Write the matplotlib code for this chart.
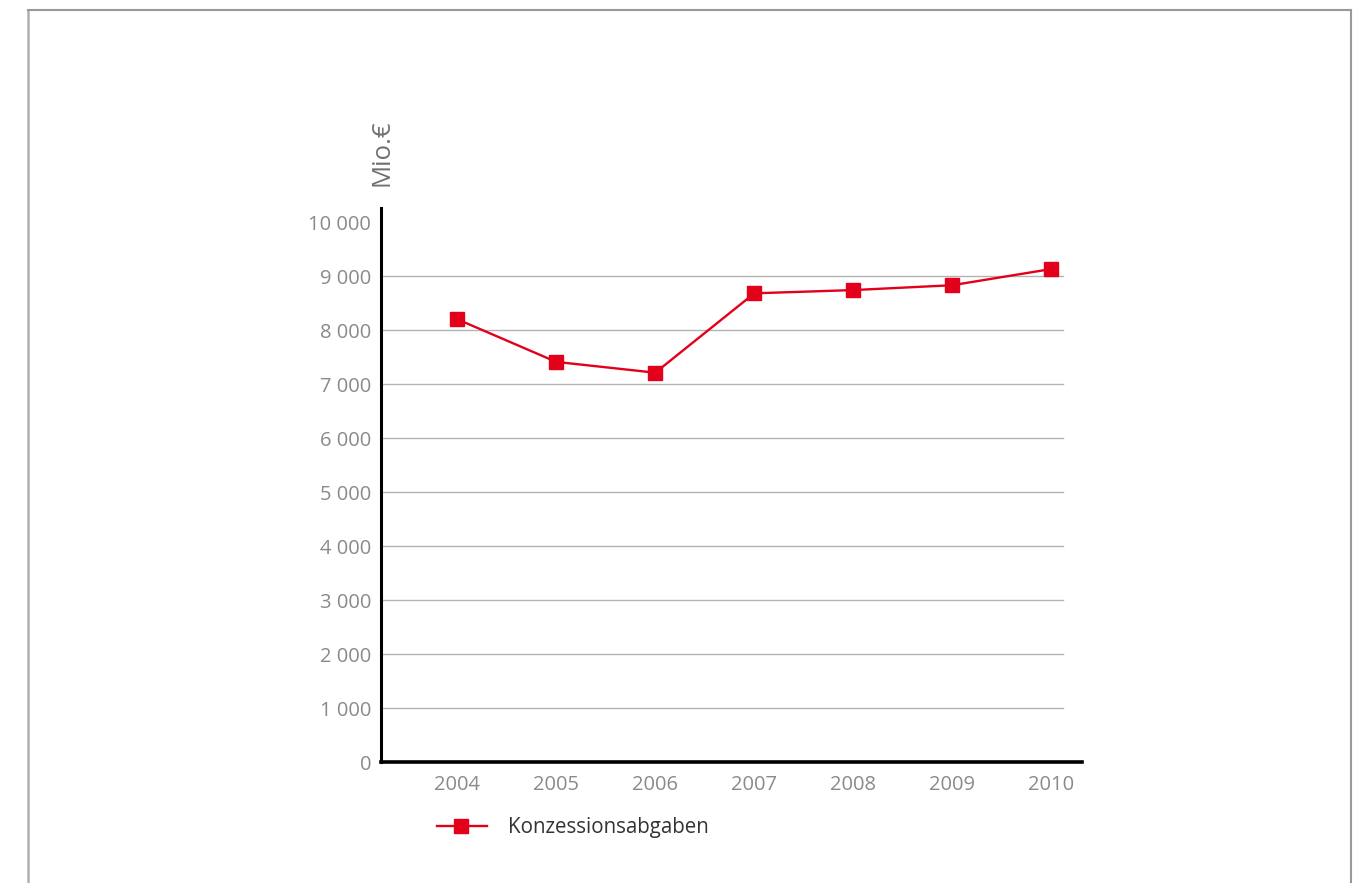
import matplotlib
matplotlib.use('Agg')
import matplotlib.pyplot as plt
from matplotlib.lines import Line2D
from matplotlib.ticker import FuncFormatter

# Konzessionsabgaben in Mio. Euro
years = [2004, 2005, 2006, 2007, 2008, 2009, 2010]
values = [8200, 7410, 7210, 8680, 8740, 8830, 9130]
yticks = [0, 1000, 2000, 3000, 4000, 5000, 6000, 7000, 8000, 9000, 10000]
series_name = 'Konzessionsabgaben'
unit_label = 'Mio.€'

red = '#e2001a'
gray_txt = '#8a8a8a'

plt.rcParams['font.family'] = ['Open Sans', 'DejaVu Sans']

fig = plt.figure(figsize=(13.66, 8.83), dpi=100)
W, H = 1366, 883

# outer frame (open at the bottom)
fig.add_artist(Line2D([28 / W, 28 / W], [0, 1 - 10 / H], transform=fig.transFigure, color='#b0b0b0', lw=1.8))
fig.add_artist(Line2D([28 / W, 1351 / W], [1 - 10 / H, 1 - 10 / H], transform=fig.transFigure, color='#999999', lw=1.5))
fig.add_artist(Line2D([1351 / W, 1351 / W], [0, 1 - 10 / H], transform=fig.transFigure, color='#999999', lw=1.5))

ax = fig.add_axes([381 / W, 1 - 762 / H, (1082 - 381) / W, (762 - 208) / H])
ax.set_xlim(2004 - 0.77, 2010 + 0.31)
ax.set_ylim(0, 10260)

for v in yticks[1:-1]:
    ax.axhline(v, xmin=0, xmax=0.973, color='#b4b4b4', lw=1.0, zorder=1)

ax.plot(years, values, color=red, lw=1.7, marker='s', markersize=10, zorder=3)

for s in ['top', 'right']:
    ax.spines[s].set_visible(False)
ax.spines['left'].set_linewidth(2.2)
ax.spines['bottom'].set_linewidth(2.6)

ax.set_yticks(yticks)
ax.yaxis.set_major_formatter(FuncFormatter(lambda v, p: f'{int(v):,}'.replace(',', ' ')))
ax.set_xticks(years)
ax.set_xticklabels([str(y) for y in years])
ax.tick_params(axis='both', length=0, labelsize=14.5, labelcolor=gray_txt)
ax.tick_params(axis='y', pad=7)
ax.tick_params(axis='x', pad=9.5)

fig.text(382 / W, 1 - 153 / H, unit_label, rotation=90, ha='center', va='center',
         fontsize=18.5, color='#707070')

# legend
fig.add_artist(Line2D([437 / W, 487 / W], [1 - 826 / H] * 2, transform=fig.transFigure,
                      color=red, lw=1.7))
fig.add_artist(Line2D([461 / W], [1 - 826 / H], transform=fig.transFigure,
                      color=red, marker='s', markersize=10, lw=0))
fig.text(508 / W, 1 - 827 / H, series_name, ha='left', va='center', fontsize=14.8, color='#333333')

fig.savefig('out.png', dpi=100)
